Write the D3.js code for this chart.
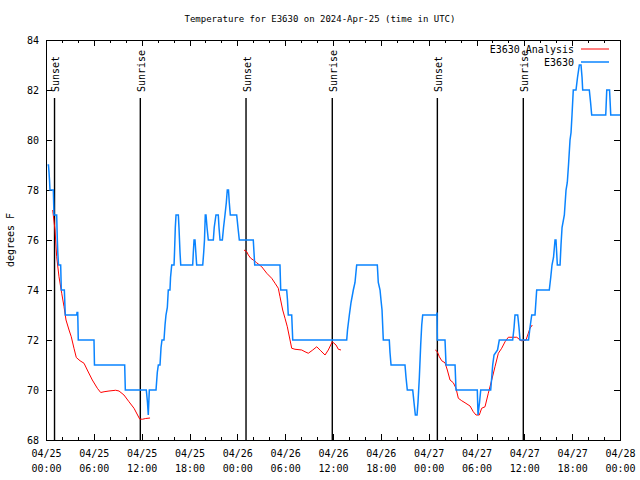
<!DOCTYPE html>
<html>
<head>
<meta charset="utf-8">
<script src="https://cdn.jsdelivr.net/npm/d3@7"></script>
<style>
  html, body { margin: 0; padding: 0; background: #fff; }
  svg { display: block; }
  text { font-family: "DejaVu Sans Mono", "Liberation Mono", monospace; font-size: 10px; fill: #000; }
</style>
</head>
<body>
<svg id="chart" width="640" height="480"></svg>
<script>
// ---------------- data ----------------
const chartTitle = "Temperature for E3630 on 2024-Apr-25 (time in UTC)";
const yAxisTitle = "degrees F";
const seriesNames = ["E3630 Analysis", "E3630"];

// hours after 2024-04-25 00:00 UTC
const e3630Hours = [
  0.19,0.31,0.38,0.44,0.50,0.92,1.00,1.34,1.42,1.48,
  1.57,1.84,1.92,2.30,2.42,3.85,3.89,3.98,4.05,6.02,
  6.08,9.87,9.95,12.58,12.73,12.83,12.96,13.80,13.96,14.09,
  14.30,14.43,14.55,14.80,14.93,15.05,15.22,15.34,15.55,15.62,
  15.77,16.06,16.12,16.22,16.31,16.60,16.68,16.81,16.90,18.40,
  18.48,18.57,18.69,18.90,19.66,19.78,19.88,19.98,20.07,20.20,
  20.36,20.99,21.10,21.32,21.61,21.70,21.83,22.12,22.27,22.45,
  22.62,22.74,22.89,22.99,23.12,23.92,24.08,24.25,26.00,26.09,
  26.18,29.35,29.44,30.19,30.29,30.39,30.82,30.95,37.72,37.82,
  38.05,38.26,38.55,38.76,38.97,41.56,41.68,41.90,42.02,42.15,
  42.31,43.06,43.15,43.28,45.03,45.16,45.32,46.00,46.16,46.33,
  46.54,46.66,46.83,47.00,47.13,47.25,49.01,49.05,49.09,50.05,
  50.18,51.31,51.43,54.10,54.19,54.38,54.53,55.78,55.91,56.03,
  56.20,56.64,56.86,58.54,58.71,58.83,59.17,59.33,59.46,60.53,
  60.71,60.93,61.34,61.55,63.13,63.31,63.47,63.66,63.85,63.97,
  64.14,64.48,64.60,64.73,65.02,65.23,65.39,65.54,65.73,65.86,
  65.98,66.14,66.48,66.67,66.90,67.11,67.24,67.32,68.15,68.31,
  68.45,70.21,70.34,70.69,70.84,72.00
];
const e3630Temps = [
  79,79,78.7,78.4,78,78,77,77,76,75.5,
  75,75,74,74,73,73,73.1,73.1,72,72,
  71,71,70,70,69.5,69,70,70,70.7,71,
  71,71.7,72,72,72.6,73,73.3,74,74,74.5,
  75,75,75.5,76.5,77,77,76.5,75.5,75,75,
  75.5,76,76,75,75,75.5,76,77,77,76.5,
  76,76,76.5,77,77,76.5,76,76,76.5,77,
  77.5,78,78,77.5,77,77,76.5,76,76,75.5,
  75,75,74,74,73.6,73,73,72,72,72.4,
  73,73.5,74,74.3,75,75,74.3,74,73.6,73.2,
  72,72,71.5,71,71,70.5,70,70,69.5,69,
  69,69.5,70.5,71.8,72.6,73,73,73.1,72,72,
  71,71,70,70,69,69.5,70,70,70.5,71,
  71.4,71.6,72,72,72.5,73,73,72.5,72,72,
  72.5,73,73,74,74,74.5,75,75.3,76,76,
  75,75,75.8,76.5,77,78,78.3,79,80,80.3,
  81,82,82,82.5,83,83,82.5,82,82,81.5,
  81,81,82,82,81,81
];

const analysis1Hours = [0.84,1.13,1.34,1.63,1.97,2.26,2.51,2.89,3.17,3.51,3.80,4.27,4.77,5.18,5.81,6.44,6.86,7.28,7.90,8.74,9.16,9.78,10.41,11.04,11.75,12.08,12.51,13.05];
const analysis1Temps = [77.2,76.4,75.33,74.53,73.87,73.33,72.8,72.4,72.13,71.67,71.3,71.17,71.07,70.8,70.4,70.07,69.9,69.93,69.96,69.99,69.96,69.8,69.53,69.27,68.84,68.83,68.86,68.88];

const analysis2Hours = [24.84,25.18,25.38,25.68,26.00,26.43,27.06,27.69,28.31,28.73,29.14,29.35,29.69,29.98,30.27,30.61,30.82,31.23,32.08,32.49,32.90,33.46,33.96,34.46,35.00,35.41,35.91,36.38,36.67,37.00];
const analysis2Temps = [75.6,75.53,75.4,75.27,75.2,75.09,74.93,74.67,74.47,74.27,74.07,73.73,73.2,72.87,72.53,72,71.67,71.63,71.6,71.53,71.47,71.6,71.73,71.57,71.4,71.6,71.93,71.8,71.63,71.6];

const analysis3Hours = [48.83,49.09,49.34,49.64,50.05,50.34,50.68,51.09,51.43,51.72,52.15,52.56,53.19,53.60,53.94,54.35,54.65,55.07,55.48,55.91,56.32,56.74,57.16,57.58,57.99,59.05,59.59,60.21,60.50,60.71,61.00];
const analysis3Temps = [71.6,71.53,71.33,71.17,71.09,70.8,70.4,70.29,70.07,69.67,69.57,69.49,69.36,69.13,69,69,69.27,69.33,69.87,70.4,70.93,71.47,71.67,71.93,72.11,72.11,71.97,72,72.27,72.47,72.6];

const sunEventHours = [1.07, 11.83, 25.09, 35.91, 49.09, 59.87];
const sunEventLabels = ["Sunset", "Sunrise", "Sunset", "Sunrise", "Sunset", "Sunrise"];

const yTickValues = [68, 70, 72, 74, 76, 78, 80, 82, 84];
const xMajorTickHours = [0, 6, 12, 18, 24, 30, 36, 42, 48, 54, 60, 66, 72];
const xMinorTickHours = d3.range(0, 73, 2);

// ---------------- layout ----------------
const startMs = Date.UTC(2024, 3, 25, 0, 0, 0);
const toDate = h => new Date(startMs + h * 3600 * 1000);

const margin = { left: 46, right: 20, top: 40, bottom: 40 };
const W = 640, H = 480;
const plotL = margin.left, plotR = W - margin.right, plotT = margin.top, plotB = H - margin.bottom;

const x = d3.scaleUtc().domain([toDate(0), toDate(72)]).range([plotL, plotR]);
const y = d3.scaleLinear().domain([68, 84]).range([plotB, plotT]);

const svg = d3.select("#chart");
svg.append("rect").attr("width", W).attr("height", H).attr("fill", "#fff");

const fmtDay = d3.utcFormat("%m/%d");
const fmtTime = d3.utcFormat("%H:%M");

// minor x ticks (bottom and top)
svg.append("g").attr("transform", `translate(0,${plotB})`)
  .call(d3.axisBottom(x).tickValues(xMinorTickHours.map(toDate)).tickSize(-3).tickFormat(""))
  .call(g => g.select(".domain").remove());
svg.append("g").attr("transform", `translate(0,${plotT})`)
  .call(d3.axisTop(x).tickValues(xMinorTickHours.map(toDate)).tickSize(-3).tickFormat(""))
  .call(g => g.select(".domain").remove());

// major x ticks
const xAxisG = svg.append("g").attr("transform", `translate(0,${plotB})`)
  .call(d3.axisBottom(x).tickValues(xMajorTickHours.map(toDate)).tickSizeInner(-6).tickSizeOuter(0).tickPadding(8)
    .tickFormat(d => fmtDay(d)))
  .call(g => g.select(".domain").remove());
xAxisG.selectAll(".tick text").each(function(d) {
  const t = d3.select(this);
  t.text(null).attr("y", 0).attr("dy", null);
  t.append("tspan").attr("x", 0).attr("y", 17).text(fmtDay(d));
  t.append("tspan").attr("x", 0).attr("y", 32).text(fmtTime(d));
});
svg.append("g").attr("transform", `translate(0,${plotT})`)
  .call(d3.axisTop(x).tickValues(xMajorTickHours.map(toDate)).tickSize(-6).tickFormat(""))
  .call(g => g.select(".domain").remove());

// y axes
svg.append("g").attr("transform", `translate(${plotL},0)`)
  .call(d3.axisLeft(y).tickValues(yTickValues).tickSizeInner(-6).tickSizeOuter(0).tickPadding(7).tickFormat(d3.format("d")))
  .call(g => g.select(".domain").remove());
svg.append("g").attr("transform", `translate(${plotR},0)`)
  .call(d3.axisRight(y).tickValues(yTickValues).tickSize(-6).tickFormat(""))
  .call(g => g.select(".domain").remove());

svg.selectAll(".tick line").attr("stroke", "#000").attr("stroke-width", 1).attr("shape-rendering", "crispEdges");
svg.selectAll(".tick text").style("font-family", "'DejaVu Sans Mono', monospace").style("font-size", "10px").attr("fill", "#000");

// border
svg.append("rect").attr("x", plotL + 0.5).attr("y", plotT + 0.5)
  .attr("width", plotR - plotL).attr("height", plotB - plotT)
  .attr("fill", "none").attr("stroke", "#000").attr("stroke-width", 1).attr("shape-rendering", "crispEdges");

// sunrise/sunset lines
const sunTop = plotT + (plotB - plotT) * 0.145;
const sunG = svg.append("g");
sunG.selectAll("line").data(sunEventHours).join("line")
  .attr("x1", d => x(toDate(d))).attr("x2", d => x(toDate(d)))
  .attr("y1", plotB).attr("y2", sunTop)
  .attr("stroke", "#000").attr("stroke-width", 1.4);
sunG.selectAll("text").data(sunEventHours).join("text")
  .attr("transform", d => `translate(${x(toDate(d)) + 1},${sunTop - 6}) rotate(-90)`)
  .attr("dy", "0.35em")
  .attr("text-anchor", "start")
  .text((d, i) => sunEventLabels[i]);

// series
const line = d3.line().x(d => x(toDate(d[0]))).y(d => y(d[1]));
const analysisSegments = [
  d3.zip(analysis1Hours, analysis1Temps),
  d3.zip(analysis2Hours, analysis2Temps),
  d3.zip(analysis3Hours, analysis3Temps)
];
svg.append("g").selectAll("path").data(analysisSegments).join("path")
  .attr("d", line).attr("fill", "none").attr("stroke", "#ff0000").attr("stroke-width", 1);

svg.append("path").datum(d3.zip(e3630Hours, e3630Temps))
  .attr("d", line).attr("fill", "none").attr("stroke", "#0a84ff").attr("stroke-width", 1.5);

// legend
const legend = svg.append("g");
const legendColors = ["#ff0000", "#0a84ff"];
const legendWidths = [1, 1.5];
seriesNames.forEach((name, i) => {
  const ly = 49 + i * 13;
  legend.append("text").attr("x", 574).attr("y", ly).attr("dy", "0.35em").attr("text-anchor", "end").text(name);
  legend.append("line").attr("x1", 581).attr("x2", 609).attr("y1", ly).attr("y2", ly)
    .attr("stroke", legendColors[i]).attr("stroke-width", legendWidths[i]);
});

// titles
svg.append("text").attr("x", 320).attr("y", 19).attr("dy", "0.35em").attr("text-anchor", "middle")
  .style("font-size", "9px").text(chartTitle);
svg.append("text").attr("transform", `translate(10,${(plotT + plotB) / 2}) rotate(-90)`)
  .attr("dy", "0.35em").attr("text-anchor", "middle").text(yAxisTitle);
</script>
</body>
</html>
